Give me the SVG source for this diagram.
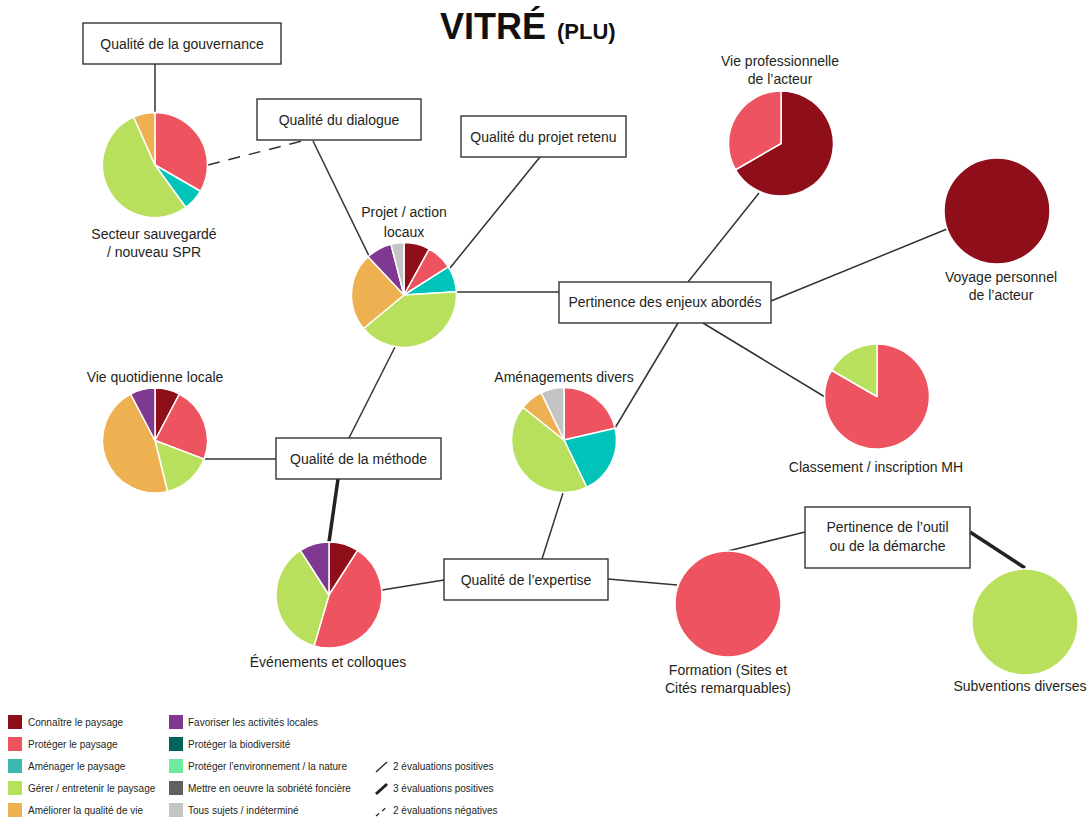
<svg xmlns="http://www.w3.org/2000/svg" width="1092" height="819" viewBox="0 0 1092 819">
<style>
text{font-family:"Liberation Sans",Arial,sans-serif;fill:#231f20}
.bt{font-size:14px;text-anchor:middle}
.pl{font-size:14px;text-anchor:middle}
.lg{font-size:10px}
.ttl{fill:#111;font-weight:bold}
.box{fill:#fff;stroke:#333;stroke-width:1.4}
.c{stroke:#333;stroke-width:1.5;fill:none}
.thick{stroke:#222;stroke-width:3.5;fill:none}
.dash{stroke:#333;stroke-width:1.5;fill:none;stroke-dasharray:12 9}
.pie path,.pie circle{stroke:#fff;stroke-width:1.5;stroke-linejoin:round}
.k1{fill:#8e0f1a}.k2{fill:#ee5360}.k3{fill:#00c4ba}.k4{fill:#b8e05c}.k5{fill:#eeb152}
.k6{fill:#7f3990}.k7{fill:#00665c}.k8{fill:#6eeba0}.k9{fill:#606060}.k10{fill:#c4c4c4}
</style>
<rect width="1092" height="819" fill="#fff"/>
<text class="ttl" x="440" y="38.5" style="font-size:36px">VITRÉ</text>
<text class="ttl" x="557" y="38.5" style="font-size:22px">(PLU)</text>

<g id="connectors">
<line class="c" x1="155" y1="64" x2="155" y2="112.5"/>
<line class="dash" x1="208" y1="165" x2="302" y2="141"/>
<line class="c" x1="313" y1="141" x2="370" y2="258"/>
<line class="c" x1="540" y1="157" x2="450" y2="268"/>
<line class="c" x1="457" y1="292" x2="559" y2="292"/>
<line class="c" x1="688" y1="282" x2="759" y2="193"/>
<line class="c" x1="771" y1="301" x2="947" y2="229"/>
<line class="c" x1="678" y1="323" x2="615" y2="428"/>
<line class="c" x1="703" y1="323" x2="825" y2="397"/>
<line class="c" x1="349" y1="438" x2="395" y2="347"/>
<line class="c" x1="204" y1="459" x2="276" y2="459"/>
<line class="thick" x1="338" y1="479" x2="329" y2="542"/>
<line class="c" x1="382" y1="590" x2="444" y2="580"/>
<line class="c" x1="542" y1="559" x2="563" y2="493"/>
<line class="c" x1="608" y1="579" x2="677" y2="585"/>
<line class="c" x1="728" y1="551" x2="805" y2="532"/>
<line class="thick" x1="970" y1="532" x2="1025" y2="568"/>
</g>

<g id="box-gouvernance"><rect class="box" x="83" y="23" width="198" height="41"/><text class="bt" x="182" y="48.5">Qualité de la gouvernance</text></g>
<g id="box-dialogue"><rect class="box" x="257" y="99" width="164" height="41"/><text class="bt" x="339" y="125">Qualité du dialogue</text></g>
<g id="box-projet-retenu"><rect class="box" x="461" y="116" width="165" height="41"/><text class="bt" x="543.5" y="141.5">Qualité du projet retenu</text></g>
<g id="box-enjeux"><rect class="box" x="559" y="282" width="212" height="41"/><text class="bt" x="665" y="307">Pertinence des enjeux abordés</text></g>
<g id="box-methode"><rect class="box" x="276" y="438" width="165" height="41"/><text class="bt" x="358.5" y="463.5">Qualité de la méthode</text></g>
<g id="box-expertise"><rect class="box" x="444" y="559" width="164" height="41"/><text class="bt" x="526" y="584.5">Qualité de l’expertise</text></g>
<g id="box-outil"><rect class="box" x="805" y="507" width="165" height="61"/><text class="bt" x="887.5" y="532">Pertinence de l’outil</text><text class="bt" x="887.5" y="551">ou de la démarche</text></g>

<g id="pie-secteur" class="pie">
<path class="k2" d="M155,165 L155,112.5 A52.5,52.5 0 0 1 200.47,191.25 Z"/>
<path class="k3" d="M155,165 L200.47,191.25 A52.5,52.5 0 0 1 185.86,207.47 Z"/>
<path class="k4" d="M155,165 L185.86,207.47 A52.5,52.5 0 1 1 133.65,117.04 Z"/>
<path class="k5" d="M155,165 L133.65,117.04 A52.5,52.5 0 0 1 155,112.5 Z"/>
<text class="pl" x="154" y="239">Secteur sauvegardé</text>
<text class="pl" x="154" y="256.5">/ nouveau SPR</text>
</g>

<g id="pie-projet" class="pie">
<path class="k1" d="M404,295 L404,242.5 A52.5,52.5 0 0 1 429.29,248.99 Z"/>
<path class="k2" d="M404,295 L429.29,248.99 A52.5,52.5 0 0 1 448.33,266.87 Z"/>
<path class="k3" d="M404,295 L448.33,266.87 A52.5,52.5 0 0 1 456.40,291.70 Z"/>
<path class="k4" d="M404,295 L456.40,291.70 A52.5,52.5 0 0 1 363.55,328.46 Z"/>
<path class="k5" d="M404,295 L363.55,328.46 A52.5,52.5 0 0 1 368.06,256.73 Z"/>
<path class="k6" d="M404,295 L368.06,256.73 A52.5,52.5 0 0 1 390.94,244.15 Z"/>
<path class="k10" d="M404,295 L390.94,244.15 A52.5,52.5 0 0 1 404,242.5 Z"/>
<text class="pl" x="404" y="217">Projet / action</text>
<text class="pl" x="404" y="236.5">locaux</text>
</g>

<g id="pie-vie-quotidienne" class="pie">
<path class="k1" d="M155,440.5 L155,388 A52.5,52.5 0 0 1 179.40,394.01 Z"/>
<path class="k2" d="M155,440.5 L179.40,394.01 A52.5,52.5 0 0 1 204.09,459.12 Z"/>
<path class="k4" d="M155,440.5 L204.09,459.12 A52.5,52.5 0 0 1 167.57,491.47 Z"/>
<path class="k5" d="M155,440.5 L167.57,491.47 A52.5,52.5 0 0 1 130.60,394.01 Z"/>
<path class="k6" d="M155,440.5 L130.60,394.01 A52.5,52.5 0 0 1 155,388 Z"/>
<text class="pl" x="155" y="381.5">Vie quotidienne locale</text>
</g>

<g id="pie-amenagements" class="pie">
<path class="k2" d="M564,440 L564,387.5 A52.5,52.5 0 0 1 615.18,428.32 Z"/>
<path class="k3" d="M564,440 L615.18,428.32 A52.5,52.5 0 0 1 586.78,487.30 Z"/>
<path class="k4" d="M564,440 L586.78,487.30 A52.5,52.5 0 0 1 522.95,407.27 Z"/>
<path class="k5" d="M564,440 L522.95,407.27 A52.5,52.5 0 0 1 541.22,392.70 Z"/>
<path class="k10" d="M564,440 L541.22,392.70 A52.5,52.5 0 0 1 564,387.5 Z"/>
<text class="pl" x="564" y="381.5">Aménagements divers</text>
</g>

<g id="pie-evenements" class="pie">
<path class="k1" d="M329,595 L329,542 A53,53 0 0 1 357.65,550.41 Z"/>
<path class="k2" d="M329,595 L357.65,550.41 A53,53 0 0 1 314.07,645.85 Z"/>
<path class="k4" d="M329,595 L314.07,645.85 A53,53 0 0 1 300.35,550.41 Z"/>
<path class="k6" d="M329,595 L300.35,550.41 A53,53 0 0 1 329,542 Z"/>
<text class="pl" x="328" y="666.5">Événements et colloques</text>
</g>

<g id="pie-vie-pro" class="pie">
<path class="k1" d="M781,143.5 L781,91 A52.5,52.5 0 1 1 735.53,169.75 Z"/>
<path class="k2" d="M781,143.5 L735.53,169.75 A52.5,52.5 0 0 1 781,91 Z"/>
<text class="pl" x="780" y="65.5">Vie professionnelle</text>
<text class="pl" x="780" y="84">de l’acteur</text>
</g>

<g id="pie-voyage" class="pie">
<circle class="k1" cx="997" cy="211" r="53"/>
<text class="pl" x="1001" y="282">Voyage personnel</text>
<text class="pl" x="1001" y="300">de l’acteur</text>
</g>

<g id="pie-classement" class="pie">
<path class="k2" d="M877,396.5 L877,344 A52.5,52.5 0 1 1 831.53,370.25 Z"/>
<path class="k4" d="M877,396.5 L831.53,370.25 A52.5,52.5 0 0 1 877,344 Z"/>
<text class="pl" x="876" y="471.5">Classement / inscription MH</text>
</g>

<g id="pie-formation" class="pie">
<circle class="k2" cx="728" cy="604" r="53"/>
<text class="pl" x="728" y="675">Formation (Sites et</text>
<text class="pl" x="728" y="693">Cités remarquables)</text>
</g>

<g id="pie-subventions" class="pie">
<circle class="k4" cx="1025" cy="622" r="53"/>
<text class="pl" x="1020" y="691">Subventions diverses</text>
</g>

<g id="legend">
<rect class="k1" x="8" y="715" width="14" height="14"/><text class="lg" x="28" y="725.5">Connaître le paysage</text>
<rect class="k2" x="8" y="737" width="14" height="14"/><text class="lg" x="28" y="747.5">Protéger le paysage</text>
<rect x="8" y="759" width="14" height="14" fill="#3bb8b1"/><text class="lg" x="28" y="769.5">Aménager le paysage</text>
<rect class="k4" x="8" y="781" width="14" height="14"/><text class="lg" x="28" y="791.5">Gérer / entretenir le paysage</text>
<rect class="k5" x="8" y="803" width="14" height="14"/><text class="lg" x="28" y="813.5">Améliorer la qualité de vie</text>
<rect class="k6" x="169" y="715" width="14" height="14"/><text class="lg" x="188" y="725.5">Favoriser les activités locales</text>
<rect class="k7" x="169" y="737" width="14" height="14"/><text class="lg" x="188" y="747.5">Protéger la biodiversité</text>
<rect class="k8" x="169" y="759" width="14" height="14"/><text class="lg" x="188" y="769.5">Protéger l’environnement / la nature</text>
<rect class="k9" x="169" y="781" width="14" height="14"/><text class="lg" x="188" y="791.5">Mettre en oeuvre la sobriété foncière</text>
<rect class="k10" x="169" y="803" width="14" height="14"/><text class="lg" x="188" y="813.5">Tous sujets / indéterminé</text>
<line x1="376" y1="772" x2="387" y2="762" stroke="#222" stroke-width="1.3"/><text class="lg" x="393" y="769.5">2 évaluations positives</text>
<line x1="376" y1="794" x2="387" y2="784" stroke="#222" stroke-width="3"/><text class="lg" x="393" y="791.5">3 évaluations positives</text>
<line x1="376" y1="816" x2="388" y2="806" stroke="#222" stroke-width="1.3" stroke-dasharray="4 4"/><text class="lg" x="393" y="813.5">2 évaluations négatives</text>
</g>
</svg>
